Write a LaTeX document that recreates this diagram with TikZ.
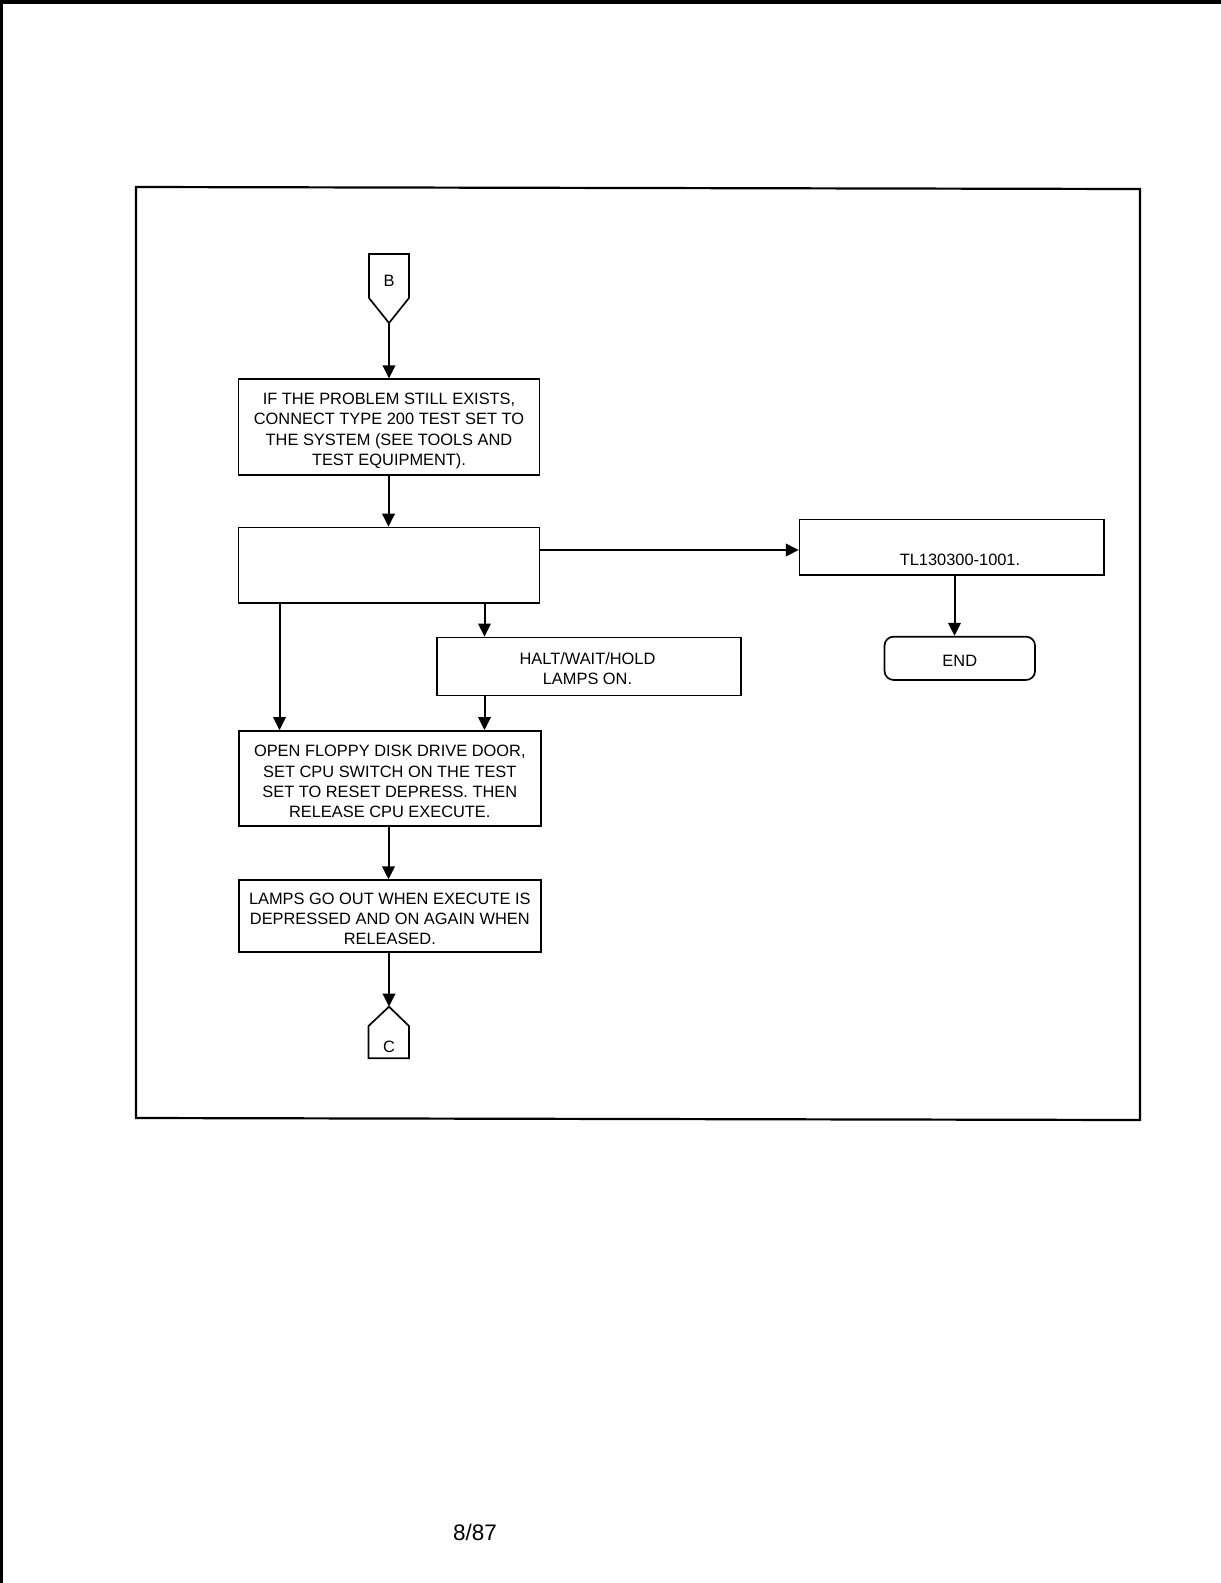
\documentclass[tikz,border=0pt]{standalone}
\usepackage{fontspec}
\setmainfont{Liberation Sans}
\usetikzlibrary{arrows.meta}
\begin{document}
\begin{tikzpicture}[x=1pt,y=-1pt,
  box/.style={draw,line width=1.7pt,inner sep=0pt},
  txt/.style={inner sep=0pt,align=center,font=\fontsize{16.4}{20.3}\selectfont},
  arr/.style={line width=2pt,-{Triangle[width=12.5pt,length=13pt]}},
  conn/.style={draw,line width=1.7pt,line join=miter}]
\useasboundingbox (0,0) rectangle (1221,1583);
\fill[white] (0,0) rectangle (1221,1583);
% scan edges
\fill[black] (0,0) rectangle (1221,3.5);
\fill[black] (0,0) rectangle (2.5,1583);
% frame
\draw[line width=2.2pt] (136,187) -- (1140,189) -- (1140,1120) -- (136,1118) -- cycle;
% connector B
\draw[conn] (369,254) -- (409,254) -- (409,298) -- (389,323) -- (369,298) -- cycle;
\node[txt] (bl) at (389,281) {B};
\coordinate (bp) at (389,323);
% boxes
\node[box,minimum width=301pt,minimum height=96pt] (b1) at (389,427.2) {};
\node[txt] (t1) at (389,431) {IF THE PROBLEM STILL EXISTS,\\CONNECT TYPE 200 TEST SET TO\\THE SYSTEM (SEE TOOLS AND\\TEST EQUIPMENT).};
\node[box,minimum width=301pt,minimum height=75.5pt] (b2) at (389,565.3) {};
\node[box,minimum width=304.4pt,minimum height=55.7pt] (b3) at (951.8,547.2) {};
\node[txt] (tl) at (960,559.5) {TL130300-1001.};
\node[box,minimum width=304pt,minimum height=58pt] (halt) at (589,666.5) {};
\node[txt] (th) at (587.5,668.5) {HALT/WAIT/HOLD\\LAMPS ON.};
\node[box,rounded corners=9pt,minimum width=150.5pt,minimum height=43.3pt] (end) at (959.8,658.3) {};
\node[txt] (te) at (959.8,661) {END};
\node[box,minimum width=301.7pt,minimum height=95pt] (b4) at (389.8,778.5) {};
\node[txt] (t4) at (389.8,781.5) {OPEN FLOPPY DISK DRIVE DOOR,\\SET CPU SWITCH ON THE TEST\\SET TO RESET DEPRESS. THEN\\RELEASE CPU EXECUTE.};
\node[box,minimum width=301.7pt,minimum height=71.7pt] (b5) at (389.8,916) {};
\node[txt] (t5) at (389.8,919) {LAMPS GO OUT WHEN EXECUTE IS\\DEPRESSED AND ON AGAIN WHEN\\RELEASED.};
% connector C
\draw[conn] (389,1006.7) -- (409,1026) -- (409,1058.3) -- (368.5,1058.3) -- (368.5,1026) -- cycle;
\node[txt] (cl) at (389,1047) {C};
\coordinate (cp) at (389,1006.7);
% guide coordinates
\coordinate (gy) at (0,550);
\coordinate (gx1) at (388.5,0);
\coordinate (gx2) at (484.5,0);
\coordinate (gx3) at (279.5,0);
\coordinate (gx4) at (954.5,0);
% arrows
\draw[arr] (bp) -- (b1.north -| bp);
\draw[arr] (b1.south -| gx1) -- (b2.north -| gx1);
\draw[arr] (b2.east |- gy) -- (b3.west |- gy);
\draw[arr] (b3.south -| gx4) -- (end.north -| gx4);
\draw[arr] (b2.south -| gx2) -- (halt.north -| gx2);
\draw[arr] (halt.south -| gx2) -- (b4.north -| gx2);
\draw[arr] (b2.south -| gx3) -- (b4.north -| gx3);
\draw[arr] (b4.south -| gx1) -- (b5.north -| gx1);
\draw[arr] (b5.south -| cp) -- (cp);
% page number
\node[inner sep=0pt,font=\fontsize{22.5}{26}\selectfont] (pg) at (475,1532) {8/87};
\end{tikzpicture}
\end{document}
